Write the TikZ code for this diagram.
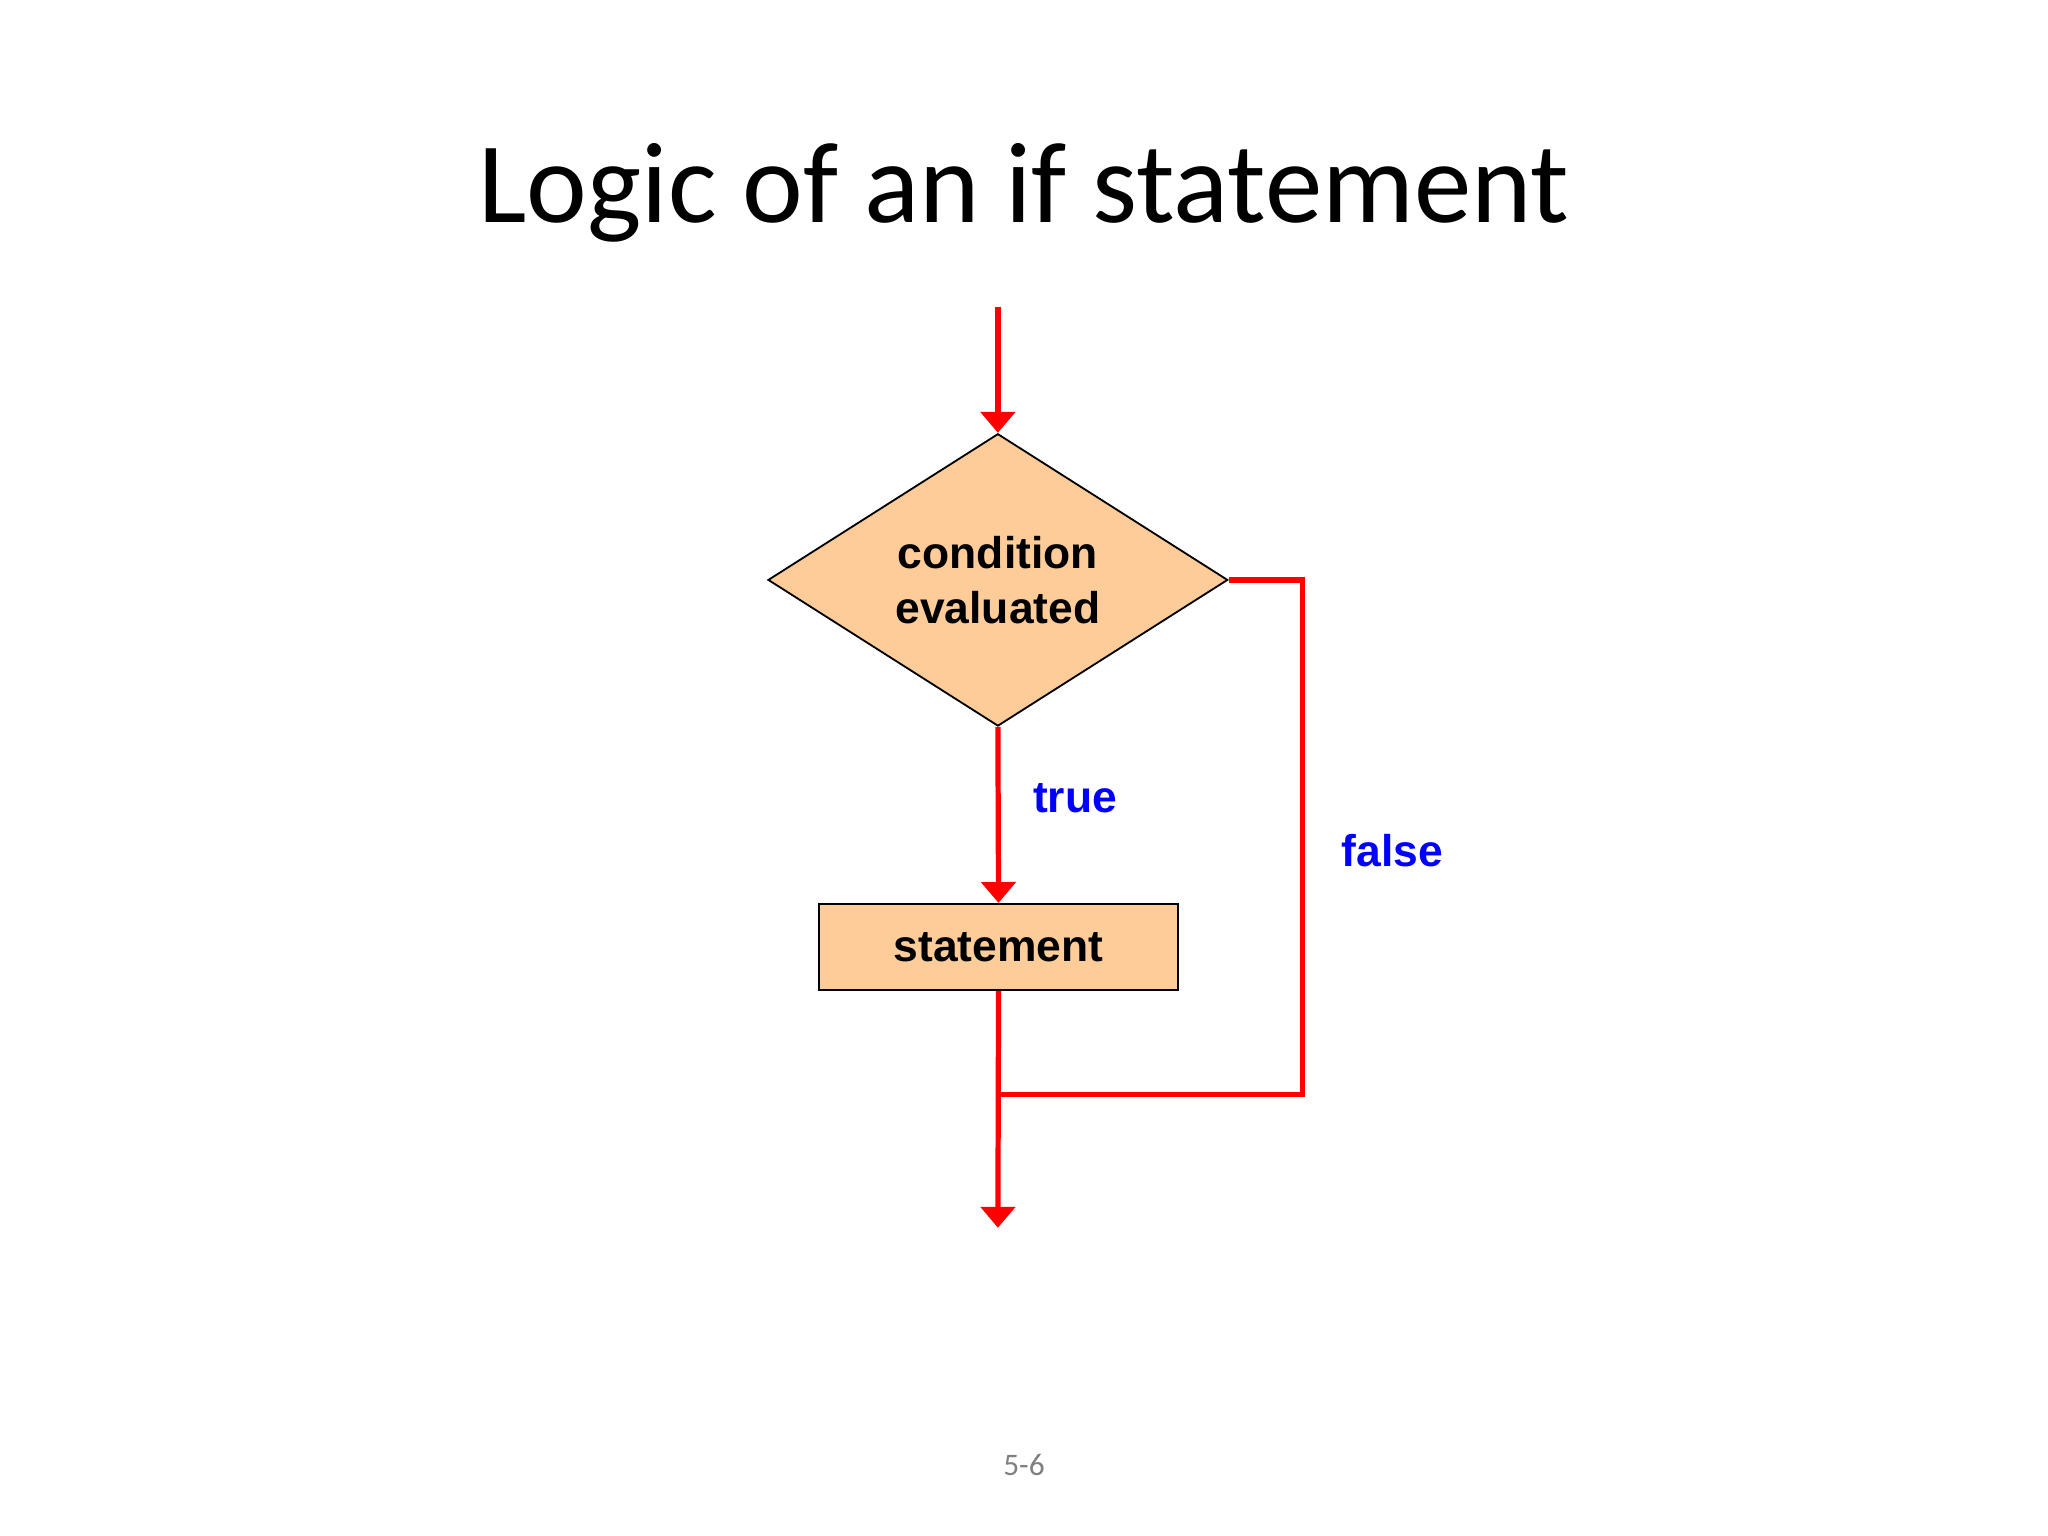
\documentclass[tikz,border=0pt]{standalone}
\usepackage{fontspec}
\setmainfont{Liberation Sans}
\newfontfamily\titlefont{Carlito}
\usetikzlibrary{shapes.geometric,arrows.meta}
\definecolor{boxfill}{RGB}{254,204,153}
\tikzset{
 flow/.style={draw=red,line width=2pt},
 arr/.style={flow,-{Triangle[length=8pt,width=13pt]}},
 shapebox/.style={draw=black,fill=boxfill,line width=0.7pt,font=\fontsize{17}{21}\selectfont\bfseries,align=center},
 lbl/.style={text=blue,font=\fontsize{17}{21}\selectfont\bfseries}
}
\begin{document}
\begin{tikzpicture}[x=0.5pt,y=-0.5pt]
\useasboundingbox (0,0) rectangle (1568,1176);
\node[font=\titlefont\fontsize{44}{50}\selectfont] (title) at (784,148) {Logic of an if statement};
\coordinate (start) at (764,235);
\node[shapebox,diamond,minimum width=176pt,minimum height=91pt,inner sep=0pt] (cond) at (764,444) {condition\\evaluated};
\node[shapebox,rectangle,minimum width=137.5pt,minimum height=33pt,inner sep=0pt] (stmt) at (764.5,725) {statement};
\coordinate (c1) at (997,444);
\coordinate (c2) at (997,838);
\coordinate (join) at (766,838);
\coordinate (end) at (764,940);
\draw[arr] (start) -- (cond.north);
\draw[arr] (cond.south) -- (stmt.north);
\draw[arr] (stmt.south) -- (end);
\draw[flow] (cond.east) -- (c1) -- (c2) -- (join);
\node[lbl] (t) at (823,611) {true};
\node[lbl] (f) at (1066,651) {false};
\node[text=gray,font=\titlefont\fontsize{12}{14}\selectfont] (pg) at (784,1122) {5-6};
\end{tikzpicture}
\end{document}
